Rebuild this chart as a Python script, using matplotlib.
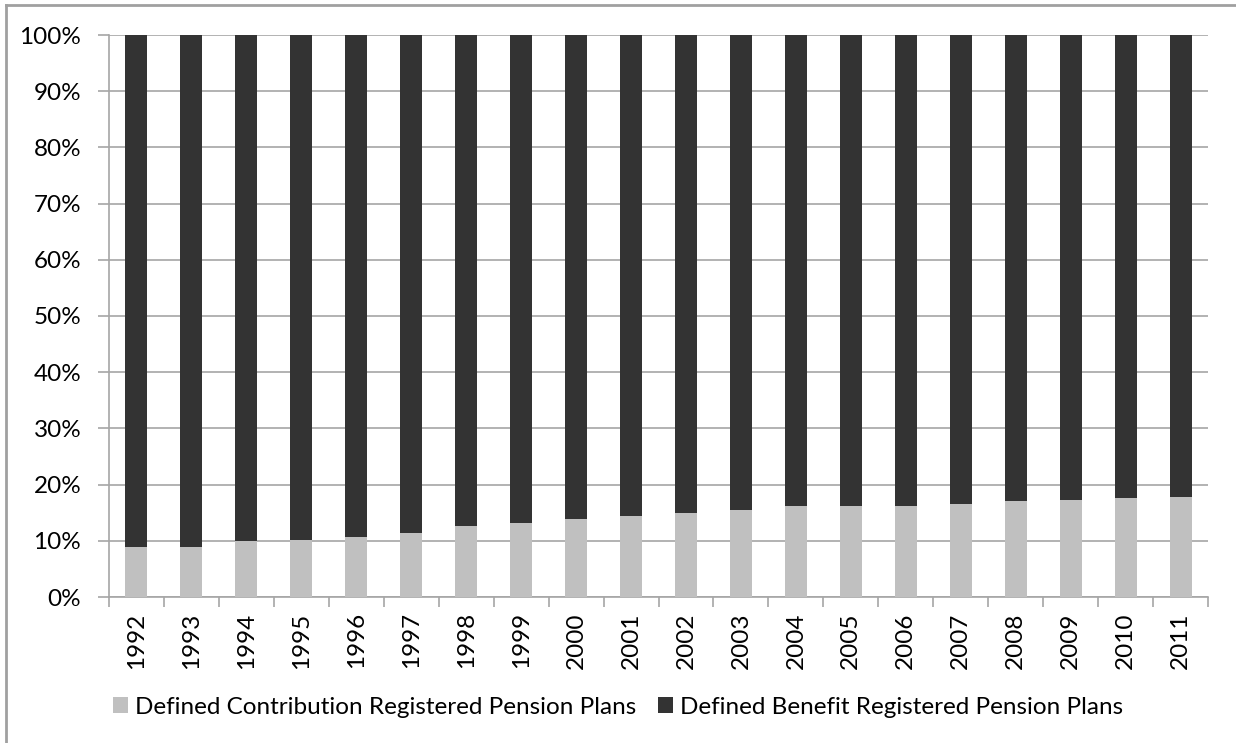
import numpy as np
import matplotlib
matplotlib.use('Agg')
import matplotlib.pyplot as plt
from matplotlib.patches import Patch
from matplotlib.lines import Line2D

# Data (share of members, %)
years = [str(y) for y in range(1992, 2012)]
dc_share = [8.98, 8.92, 9.88, 10.18, 10.66, 11.45, 12.71, 13.23, 13.83, 14.43,
            14.93, 15.56, 16.16, 16.16, 16.28, 16.46, 17.12, 17.30, 17.60, 17.78]
db_share = [100 - v for v in dc_share]
series_names = ['Defined Contribution Registered Pension Plans',
                'Defined Benefit Registered Pension Plans']
colors = ['#c0c0c0', '#333333']
yticks = list(range(0, 101, 10))

plt.rcParams['font.family'] = ['Lato', 'DejaVu Sans']
fs = 17.5

fig = plt.figure(figsize=(12.36, 7.43), dpi=100)
ax = fig.add_axes([109 / 1236, 1 - 597 / 743, (1208 - 109) / 1236, (597 - 35) / 743])

x = np.arange(len(years))
ax.bar(x, dc_share, width=0.4, color=colors[0], zorder=3)
ax.bar(x, db_share, width=0.4, bottom=dc_share, color=colors[1], zorder=3)

ax.set_xlim(-0.5, len(years) - 0.5)
ax.set_ylim(0, 100)
ax.set_yticks(yticks)
ax.set_yticklabels([f'{v}%' for v in yticks], fontsize=fs)
ax.yaxis.grid(True, color='#a6a6a6', linewidth=1.2, zorder=0)
ax.set_xticks(x)
ax.set_xticklabels(years, rotation=90, fontsize=fs)
ax.tick_params(axis='x', length=0, pad=11)
ax.set_xticks(np.arange(-0.5, len(years)), minor=True)
ax.tick_params(axis='x', which='minor', length=7, color='#a6a6a6', width=1.2)
ax.tick_params(axis='y', length=8, color='#a6a6a6', width=1.2, pad=12)
for s in ['top', 'right']:
    ax.spines[s].set_visible(False)
for s in ['left', 'bottom']:
    ax.spines[s].set_color('#a6a6a6')
    ax.spines[s].set_linewidth(1.2)

handles = [Patch(facecolor=c, edgecolor='none') for c in colors]
fig.legend(handles, series_names, loc='center', bbox_to_anchor=(0.5, 1 - 707 / 743),
           ncol=2, frameon=False, fontsize=fs, handlelength=0.62, handleheight=0.62,
           handletextpad=0.3, columnspacing=0.9)

# chart border (left and top visible)
fig.add_artist(Line2D([6 / 1236, 6 / 1236], [0, 1 - 5 / 743], transform=fig.transFigure,
                      color='#a0a0a0', linewidth=2))
fig.add_artist(Line2D([6 / 1236, 1], [1 - 5 / 743, 1 - 5 / 743], transform=fig.transFigure,
                      color='#a0a0a0', linewidth=2))

fig.savefig('out.png', dpi=100)
